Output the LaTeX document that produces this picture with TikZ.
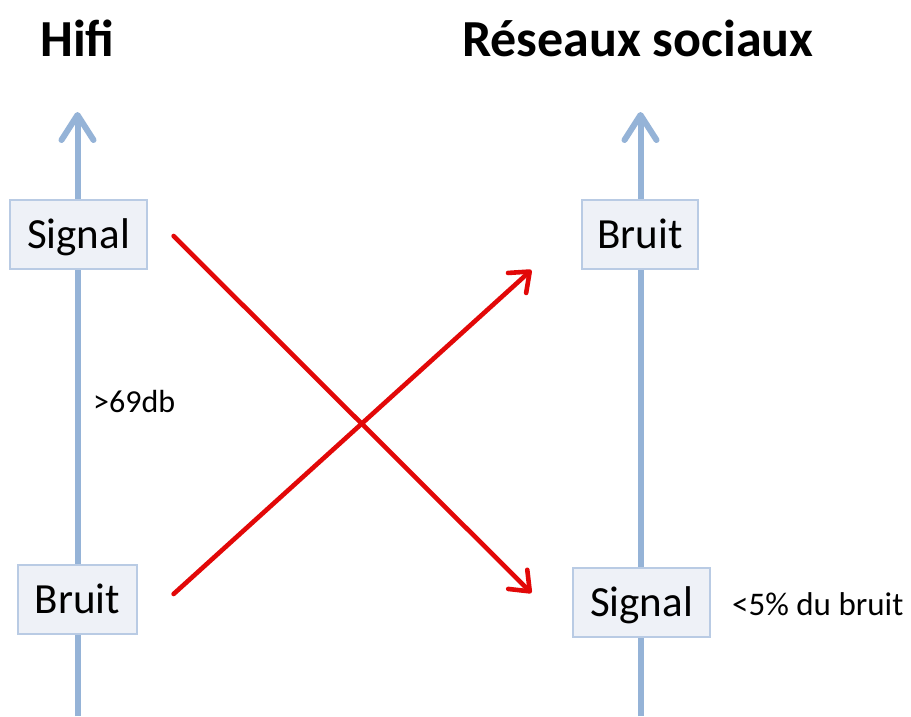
\documentclass[tikz,border=0pt]{standalone}
\usepackage{fontspec}
\setmainfont{Carlito}
\usetikzlibrary{arrows.meta,calc}
\definecolor{axisblue}{RGB}{149,179,215}
\definecolor{boxfill}{RGB}{238,241,247}
\definecolor{boxdraw}{RGB}{185,203,228}
\definecolor{arrred}{RGB}{226,8,8}
\tikzset{
  axisline/.style={draw=axisblue,line width=6pt,
    -{Straight Barb[length=25pt,width=32pt,line cap=round,line join=round]}},
  valbox/.style={draw=boxdraw,fill=boxfill,line width=1.2pt,
    font=\fontsize{43}{50}\selectfont,text height=28pt,text depth=0pt,
    inner ysep=0pt,inner xsep=2pt,minimum height=69pt},
  redarrow/.style={draw=arrred,line width=4.6pt,line cap=round,
    -{Straight Barb[length=17pt,width=27pt,line cap=round,line join=round]}},
  titletext/.style={font=\fontsize{52}{60}\selectfont\bfseries,inner sep=0pt,anchor=base west},
  notetext/.style={font=\fontsize{32}{38}\selectfont,inner sep=0pt,anchor=base west}
}
\begin{document}
\begin{tikzpicture}[x=1pt,y=-1pt]
\useasboundingbox[fill=white] (0,0) rectangle (911,716);
% axes
\coordinate (lbot) at (77.5,716);
\coordinate (ltop) at (77.5,112);
\coordinate (rbot) at (640.5,716);
\coordinate (rtop) at (640.5,112);
\draw[axisline] (lbot) -- (ltop);
\draw[axisline] (rbot) -- (rtop);
% titles
\node[titletext] (t1) at (40,56) {Hifi};
\node[titletext] (t2) at (462,56) {Réseaux sociaux};
% boxes
\node[valbox,minimum width=137pt] (sigL) at (78.5,234.5) {Signal};
\node[valbox,minimum width=119pt] (brL) at (77.5,599.5) {Bruit};
\node[valbox,minimum width=116pt] (brR) at (640,234.5) {Bruit};
\node[valbox,minimum width=137pt] (sigR) at (641.5,602.5) {Signal};
% notes
\node[notetext] (n1) at (93,412) {>69db};
\node[notetext,font=\fontsize{33}{38}\selectfont] (n2) at (732,615) {<5\% du bruit};
% red arrows
\draw[redarrow] ($(sigL.east)+(26,1.5)$) -- ($(sigR.west)+(-41,-9.5)$);
\draw[redarrow] ($(brL.east)+(36,-5.5)$) -- ($(brR.west)+(-50,35.5)$);
\end{tikzpicture}
\end{document}
